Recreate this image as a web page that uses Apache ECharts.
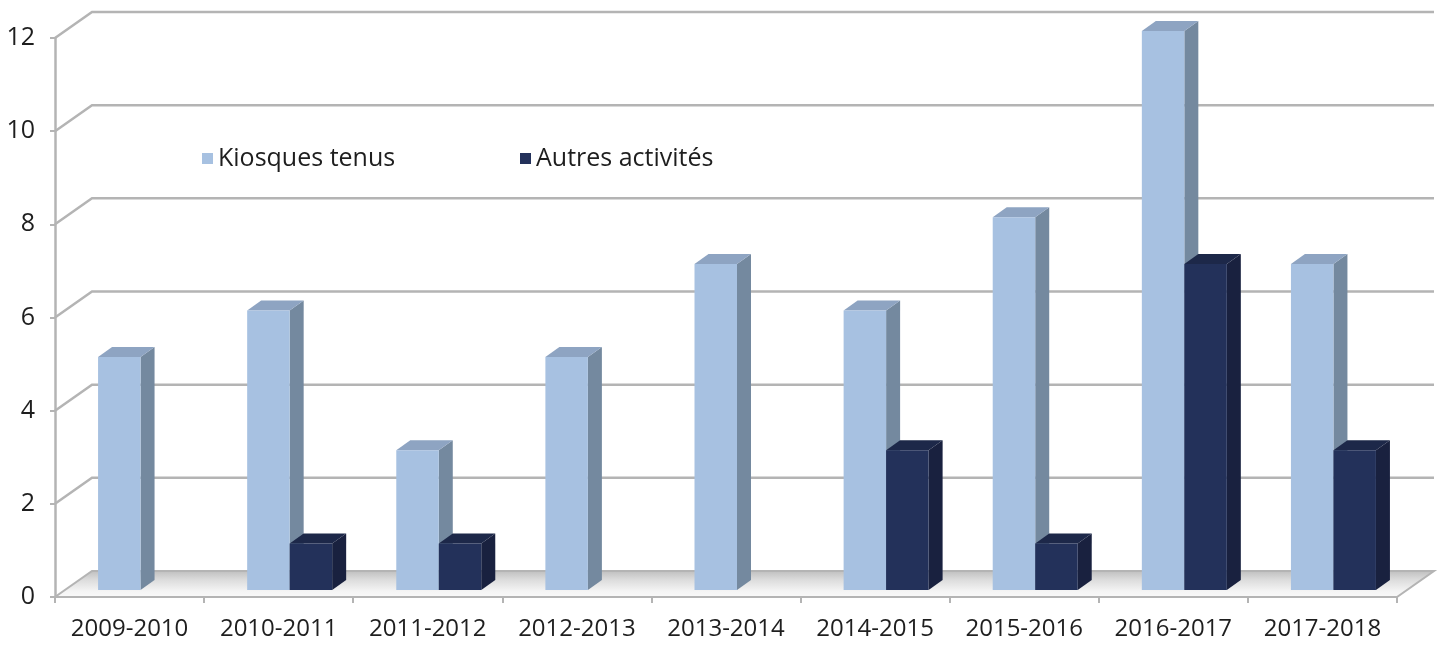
<!DOCTYPE html>
<html>
<head>
<meta charset="utf-8">
<script src="https://cdn.jsdelivr.net/npm/echarts@6/dist/echarts.min.js"></script>
<style>html,body{margin:0;padding:0;background:#fff}#c{width:1445px;height:646px}</style>
</head>
<body>
<div id="c"></div>
<script>
var categories = ['2009-2010','2010-2011','2011-2012','2012-2013','2013-2014','2014-2015','2015-2016','2016-2017','2017-2018'];
var kiosques = [5, 6, 3, 5, 7, 6, 8, 12, 7];
var autres = [0, 1, 1, 0, 0, 3, 1, 7, 3];
var yTicks = [0, 2, 4, 6, 8, 10, 12];
var seriesNames = ['Kiosques tenus', 'Autres activités'];

var FONT = '"Open Sans", "Noto Sans", sans-serif';
var WALL_DX = 37, WALL_DY = -26;     // depth of the chart box
var BAR_SX = 11, BAR_SY = -7;        // bar front face offset from front plane
var BAR_DX = 14, BAR_DY = -10;       // bar depth
var BAR_FRAC = 0.285;                // bar width as fraction of band

var faces = [
  {front: '#a7c1e1', side: '#74899f', top: '#8ea4c2'},
  {front: '#23315a', side: '#19213f', top: '#1d2849'}
];

function bandInfo(api) {
  var band = api.size([1, 0])[0];
  var first = api.coord([0, 0]);
  var last = api.coord([categories.length - 1, 0]);
  return {band: band, left: first[0] - band / 2, right: last[0] + band / 2, y0: first[1]};
}

function renderWall(params, api) {
  var b = bandInfo(api);
  var v = api.value(1);
  var y = api.coord([0, v])[1];
  var lineStyle = {stroke: '#b4b4b4', lineWidth: 2.5, fill: null};
  if (v === 0) {
    return {
      type: 'group',
      children: [{
        type: 'polygon',
        shape: {points: [[b.left, y], [b.right, y], [b.right + WALL_DX, y + WALL_DY], [b.left + WALL_DX, y + WALL_DY]]},
        style: {
          fill: {type: 'linear', x: 0, y: 0, x2: 0, y2: 1, colorStops: [
            {offset: 0, color: '#bdbdbd'}, {offset: 0.35, color: '#dcdcdc'}, {offset: 0.75, color: '#f4f4f4'}, {offset: 1, color: '#fafafa'}]},
          stroke: '#b4b4b4', lineWidth: 2
        }
      }]
    };
  }
  return {
    type: 'polyline',
    shape: {points: [[b.left, y], [b.left + WALL_DX, y + WALL_DY], [b.right + WALL_DX, y + WALL_DY]]},
    style: lineStyle
  };
}

function makeBarRenderer(si) {
  return function (params, api) {
    var k = api.value(0), v = api.value(1);
    if (!v) return null;
    var b = bandInfo(api);
    var w = b.band * BAR_FRAC;
    var c = api.coord([k, v]);
    var base = api.coord([k, 0]);
    var x0 = c[0] + BAR_SX - (si === 0 ? w : 0);
    var yT = c[1] + BAR_SY, yB = base[1] + BAR_SY;
    var f = faces[si];
    return {
      type: 'group',
      children: [
        {type: 'polygon', shape: {points: [[x0 + w, yT], [x0 + w + BAR_DX, yT + BAR_DY], [x0 + w + BAR_DX, yB + BAR_DY], [x0 + w, yB]]},
         style: {fill: f.side}},
        {type: 'polygon', shape: {points: [[x0, yT], [x0 + BAR_DX, yT + BAR_DY], [x0 + w + BAR_DX, yT + BAR_DY], [x0 + w, yT]]},
         style: {fill: f.top}},
        {type: 'rect', shape: {x: x0, y: yT, width: w, height: yB - yT}, style: {fill: f.front}}
      ]
    };
  };
}

var chart = echarts.init(document.getElementById('c'), null, {renderer: 'canvas'});
chart.setOption({
  animation: false,
  backgroundColor: '#fff',
  grid: {left: 55, right: 48, top: 38, bottom: 49, containLabel: false},
  legend: [
    {data: [seriesNames[0]], left: 197, top: 141, itemWidth: 11, itemHeight: 11, icon: 'rect', itemGap: 0,
     textStyle: {fontFamily: FONT, fontSize: 25, color: '#1e1e1e'}},
    {data: [seriesNames[1]], left: 515, top: 141, itemWidth: 11, itemHeight: 11, icon: 'rect', itemGap: 0,
     textStyle: {fontFamily: FONT, fontSize: 25, color: '#1e1e1e'}}
  ],
  xAxis: {
    type: 'category', data: categories, boundaryGap: true,
    axisLine: {show: true, lineStyle: {color: '#b4b4b4', width: 2}},
    axisTick: {show: true, interval: 0, length: 6, lineStyle: {color: '#b4b4b4', width: 2}},
    axisLabel: {interval: 0, fontFamily: FONT, fontSize: 24, color: '#1e1e1e', margin: 20}
  },
  yAxis: {
    type: 'value', min: 0, max: 12, interval: 2,
    axisLine: {show: true, lineStyle: {color: '#b4b4b4', width: 2.5}},
    axisTick: {show: true, length: 5, lineStyle: {color: '#b4b4b4', width: 2}},
    splitLine: {show: false},
    axisLabel: {fontFamily: FONT, fontSize: 25, color: '#1e1e1e', margin: 20}
  },
  series: [
    {type: 'custom', name: 'wall', renderItem: renderWall, z: 1, silent: true,
     data: yTicks.map(function (t) { return [0, t]; })},
    {type: 'custom', name: seriesNames[0], renderItem: makeBarRenderer(0), z: 3,
     itemStyle: {color: faces[0].front},
     data: kiosques.map(function (v, i) { return [i, v]; })},
    {type: 'custom', name: seriesNames[1], renderItem: makeBarRenderer(1), z: 4,
     itemStyle: {color: faces[1].front},
     data: autres.map(function (v, i) { return [i, v]; })}
  ]
});
</script>
</body>
</html>
